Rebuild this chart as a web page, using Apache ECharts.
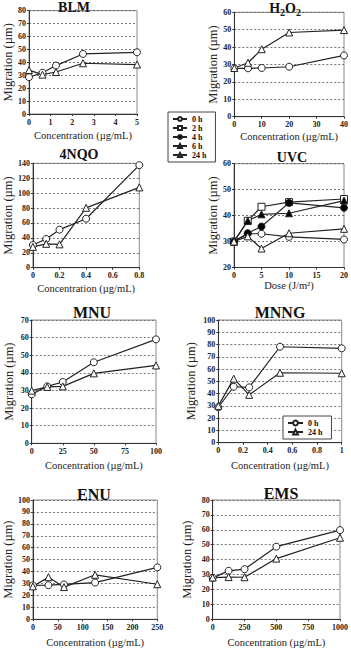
<!DOCTYPE html>
<html><head><meta charset="utf-8">
<script src="https://cdn.jsdelivr.net/npm/echarts@6/dist/echarts.min.js"></script>
<style>html,body{margin:0;padding:0;background:#fff}#c{width:351px;height:649px}</style>
</head><body><div id="c"></div>
<script>
// ---------- data ----------
const blmX = [0, 0.625, 1.25, 2.5, 5];
const blm0h = [28.5, 32, 37.5, 46.5, 47.8];
const blm24h = [34, 30.5, 32.5, 39.3, 38.3];

const h2o2X = [0, 5, 10, 20, 40];
const h2o2_0h = [27.8, 27.8, 28, 28.7, 35.2];
const h2o2_24h = [28, 31, 38.8, 48.4, 49.8];

const nqoX = [0, 0.1, 0.2, 0.4, 0.8];
const nqo0h = [30.4, 38.5, 51, 65.7, 137.5];
const nqo24h = [28, 32, 31.3, 80.3, 107.7];

const uvcX = [0, 2.5, 5, 10, 20];
const uvc0h = [30, 33, 33, 31.8, 30.8];
const uvc2h = [30, 38, 43.4, 45.2, 46.4];
const uvc4h = [30, 33.2, 35.8, 44.9, 43];
const uvc6h = [30, 38, 40.5, 40.9, 45.8];
const uvc24h = [30, 32, 27.3, 33.2, 34.9];

const mnuX = [0, 12.5, 25, 50, 100];
const mnu0h = [27.8, 32.3, 34.8, 46, 59];
const mnu24h = [29.9, 32, 32.3, 39.7, 44.2];

const mnngX = [0, 0.125, 0.25, 0.5, 1];
const mnng0h = [28.9, 45.6, 45.1, 78.2, 76.9];
const mnng24h = [30, 52.2, 39, 57, 56.6];

const enuX = [0, 31.25, 62.5, 125, 250];
const enu0h = [28.4, 28.6, 29.2, 30.8, 43.5];
const enu24h = [27.6, 35.3, 27, 37.3, 29.4];

const emsX = [0, 125, 250, 500, 1000];
const ems0h = [27.8, 32.5, 33.6, 48.7, 59.8];
const ems24h = [28, 28.3, 28.2, 40.7, 54.7];

const seriesNames = ['0 h', '2 h', '4 h', '6 h', '24 h'];
const yName = 'Migration (µm)';
const concName = 'Concentration (µg/mL)';
const doseName = 'Dose (J/m²)';

// ---------- layout / styles ----------
const FONT = '"Liberation Serif", "Times New Roman", serif';
const markerStyle = {
  '0 h':  {symbol: 'circle',   fill: '#fff'},
  '2 h':  {symbol: 'rect',     fill: '#fff'},
  '4 h':  {symbol: 'circle',   fill: '#000'},
  '6 h':  {symbol: 'triangle', fill: '#000'},
  '24 h': {symbol: 'triangle', fill: '#fff'}
};

const panels = [
  {title: 'BLM', tx: 74, ty: 7.5, ts: 14, grid: [29, 10.7, 108, 103.3], x: [0, 5, 1], y: [0, 80, 10], xName: concName, xGap: 15.5, yGap: 12,
   series: [['0 h', blmX, blm0h], ['24 h', blmX, blm24h]]},
  {title: 'H{s|2}O{s|2}', tx: 285, ty: 8, ts: 14, grid: [234.3, 12.3, 110.7, 104.4], x: [0, 40, 10], y: [0, 60, 10], xName: concName, xGap: 14.3, yGap: 13.5,
   series: [['0 h', h2o2X, h2o2_0h], ['24 h', h2o2X, h2o2_24h]]},
  {title: '4NQO', tx: 79, ty: 154.5, ts: 14, grid: [29.3, 163.3, 110, 104.4], x: [0, 0.8, 0.2], y: [0, 140, 20], xName: concName, xGap: 15.3, yGap: 18,
   series: [['0 h', nqoX, nqo0h], ['24 h', nqoX, nqo24h]]},
  {title: 'UVC', tx: 292, ty: 157.5, ts: 14, grid: [234, 163.7, 111, 103.8], x: [0, 20, 5], y: [20, 60, 10], xName: doseName, xGap: 11.5, yGap: 15,
   series: [['0 h', uvcX, uvc0h], ['2 h', uvcX, uvc2h], ['4 h', uvcX, uvc4h], ['6 h', uvcX, uvc6h], ['24 h', uvcX, uvc24h]]},
  {title: 'MNU', tx: 92, ty: 312.5, ts: 16, grid: [31.7, 320, 124.3, 123.3], x: [0, 100, 25], y: [0, 70, 10], xName: concName, xGap: 16.7, yGap: 16,
   series: [['0 h', mnuX, mnu0h], ['24 h', mnuX, mnu24h]]},
  {title: 'MNNG', tx: 280, ty: 312.5, ts: 16, grid: [218.3, 320, 123.4, 122.7], x: [0, 1, 0.2], y: [0, 100, 10], xName: concName, xGap: 17.3, yGap: 20.5,
   series: [['0 h', mnngX, mnng0h], ['24 h', mnngX, mnng24h]]},
  {title: 'ENU', tx: 94, ty: 494, ts: 16, grid: [29.3, 500, 128, 123.3], x: [0, 250, 50], y: [0, 100, 10], xName: concName, xGap: 17.7, yGap: 17,
   series: [['0 h', enuX, enu0h], ['24 h', enuX, enu24h]]},
  {title: 'EMS', tx: 281, ty: 493.5, ts: 16, grid: [212.7, 500, 129, 123.3], x: [0, 1000, 250], y: [0, 80, 10], xName: concName, xGap: 17.7, yGap: 19,
   series: [['0 h', emsX, ems0h], ['24 h', emsX, ems24h]]}
];

const grids = [], xAxes = [], yAxes = [], series = [], graphics = [];
panels.forEach((p, i) => {
  grids.push({left: p.grid[0], top: p.grid[1], width: p.grid[2], height: p.grid[3],
    show: true, borderColor: '#8a8a8a', borderWidth: 1, backgroundColor: 'transparent'});
  xAxes.push({gridIndex: i, type: 'value', min: p.x[0], max: p.x[1], interval: p.x[2],
    name: p.xName, nameLocation: 'middle', nameGap: p.xGap,
    nameTextStyle: {fontFamily: FONT, fontWeight: 'normal', fontSize: 10.5, color: '#222'},
    axisLine: {show: true, onZero: false, lineStyle: {color: '#333', width: 1}},
    axisTick: {show: true, length: 2, lineStyle: {color: '#333'}},
    axisLabel: {fontFamily: FONT, fontWeight: 'bold', fontSize: 8, color: '#222', margin: 4,
      formatter: v => String(v)},
    splitLine: {show: false}});
  yAxes.push({gridIndex: i, type: 'value', min: p.y[0], max: p.y[1], interval: p.y[2],
    name: yName, nameLocation: 'middle', nameGap: p.yGap,
    nameTextStyle: {fontFamily: FONT, fontWeight: 'normal', fontSize: 12.5, color: '#222'},
    axisLine: {show: true, onZero: false, lineStyle: {color: '#333', width: 1}},
    axisTick: {show: true, length: 2, lineStyle: {color: '#333'}},
    axisLabel: {fontFamily: FONT, fontWeight: 'bold', fontSize: 8, color: '#222', margin: 3},
    splitLine: {show: true, lineStyle: {type: [2, 2], color: '#555', width: 0.8}}});
  p.series.forEach(s => {
    const m = markerStyle[s[0]];
    series.push({type: 'line', name: s[0], xAxisIndex: i, yAxisIndex: i,
      data: s[1].map((xv, k) => [xv, s[2][k]]),
      symbol: m.symbol, symbolSize: 7, showAllSymbol: true,
      lineStyle: {color: '#222', width: 1.2},
      itemStyle: {color: m.fill, borderColor: '#222', borderWidth: 1},
      emphasis: {disabled: true}, animation: false});
  });
  graphics.push({type: 'text', x: p.tx, y: p.ty,
    style: {text: p.title, fill: '#111', font: 'bold ' + p.ts + 'px ' + FONT,
      fontFamily: FONT, fontWeight: 'bold', fontSize: p.ts,
      align: 'center', verticalAlign: 'middle', textAlign: 'center', textVerticalAlign: 'middle',
      lineHeight: p.title.indexOf('{') >= 0 ? 18 : 15,
      rich: {s: {fontFamily: FONT, fontWeight: 'bold', fontSize: 10, lineHeight: 9, verticalAlign: 'bottom', fill: '#111'}}}});
});

const legendText = {fontFamily: FONT, fontWeight: 'bold', fontSize: 8, lineHeight: 7, color: '#111'};
const option = {
  backgroundColor: '#fff',
  animation: false,
  grid: grids, xAxis: xAxes, yAxis: yAxes, series: series,
  graphic: graphics,
  legend: [
    {data: seriesNames, orient: 'vertical', left: 168, top: 112, padding: [3, 9, 3, 4],
     itemWidth: 14, itemHeight: 5, itemGap: 1, borderColor: '#444', borderWidth: 1,
     backgroundColor: '#fff', textStyle: legendText, selectedMode: false, align: 'left'},
    {data: ['0 h', '24 h'], orient: 'vertical', left: 283, top: 416, padding: [3, 9, 3, 4],
     itemWidth: 15, itemHeight: 6, itemGap: 1, borderColor: '#444', borderWidth: 1,
     backgroundColor: '#fff', textStyle: {fontFamily: FONT, fontWeight: 'bold', fontSize: 8, lineHeight: 8, color: '#111'},
     selectedMode: false, align: 'left'}
  ]
};
const chart = echarts.init(document.getElementById('c'), null, {renderer: 'svg'});
chart.setOption(option);
</script></body></html>
